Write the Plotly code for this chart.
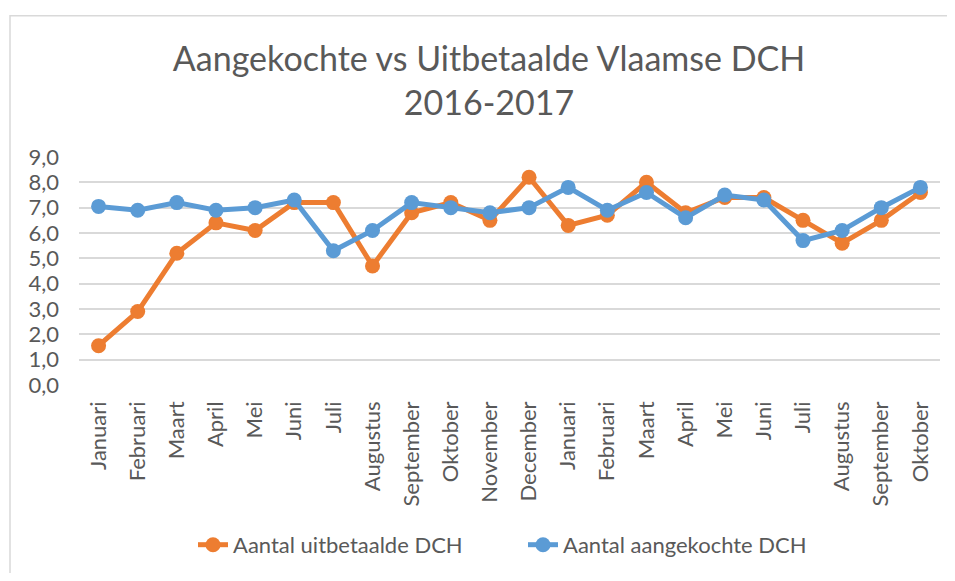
import plotly.graph_objects as go

months = ["Januari", "Februari", "Maart", "April", "Mei", "Juni", "Juli", "Augustus",
          "September", "Oktober", "November", "December",
          "Januari", "Februari", "Maart", "April", "Mei", "Juni", "Juli", "Augustus",
          "September", "Oktober"]
uitbetaalde = [1.55, 2.9, 5.2, 6.4, 6.1, 7.2, 7.2, 4.7, 6.8, 7.2, 6.5, 8.2,
               6.3, 6.7, 8.0, 6.8, 7.4, 7.4, 6.5, 5.6, 6.5, 7.6]
aangekochte = [7.05, 6.9, 7.2, 6.9, 7.0, 7.3, 5.3, 6.1, 7.2, 7.0, 6.8, 7.0,
               7.8, 6.9, 7.6, 6.6, 7.5, 7.3, 5.7, 6.1, 7.0, 7.8]
y_ticks = [0, 1, 2, 3, 4, 5, 6, 7, 8, 9]

idx = list(range(len(months)))
FONT = "Lato"
GREY = "#595959"

fig = go.Figure()
fig.add_trace(go.Scatter(x=idx, y=uitbetaalde, mode="lines+markers", name="Aantal uitbetaalde DCH",
                         line=dict(color="#ED7D31", width=5),
                         marker=dict(color="#ED7D31", size=15)))
fig.add_trace(go.Scatter(x=idx, y=aangekochte, mode="lines+markers", name="Aantal aangekochte DCH",
                         line=dict(color="#5B9BD5", width=5),
                         marker=dict(color="#5B9BD5", size=15)))

# page body has an 8px margin on every side; figure sized so the page does not scroll
W, H = 939, 565
L, R, T, B = 71, 7, 149, 185
pw, ph = W - L - R, H - T - B

def px_x(p):
    return (p - L) / pw

def px_y(p):
    return (H - B - p) / ph

fx0, fy0 = px_x(2), px_y(6)
fx1, fy1 = px_x(W + 40), px_y(H + 40)
frame_path = f"M {fx0},{fy1} L {fx0},{fy0} L {fx1},{fy0}"

fig.update_layout(
    width=W, height=H,
    margin=dict(l=L, r=R, t=T, b=B),
    paper_bgcolor="white", plot_bgcolor="white",
    separators=",.",
    font=dict(family=FONT, color=GREY, size=22),
    title=dict(text="Aangekochte vs Uitbetaalde Vlaamse DCH<br>2016-2017",
               x=px_x(481), xanchor="center", xref="paper",
               y=1 - 63 / H, yanchor="top",
               font=dict(family=FONT, size=34, color=GREY)),
    xaxis=dict(range=[-0.5, len(months) - 0.5], tickmode="array", tickvals=idx, ticktext=months,
               tickangle=-90, showgrid=False, zeroline=False, showline=False, ticks="",
               ticklabelstandoff=11, tickfont=dict(size=22, color=GREY)),
    yaxis=dict(range=[0, 9], tickmode="array", tickvals=y_ticks, tickformat=".1f",
               showgrid=True, gridcolor="#D9D9D9", gridwidth=1.5, zeroline=False,
               showline=False, ticks="", ticklabelstandoff=19,
               tickfont=dict(size=22, color=GREY)),
    legend=dict(orientation="h", x=px_x(185), xanchor="left", y=px_y(542), yanchor="middle",
                font=dict(size=22, color=GREY), entrywidth=285, entrywidthmode="pixels",
                tracegroupgap=0),
    showlegend=True,
    shapes=[dict(type="path", xref="paper", yref="paper", path=frame_path,
                 line=dict(color="#D9D9D9", width=1.5), layer="below")],
)

fig.write_html("out.html")
